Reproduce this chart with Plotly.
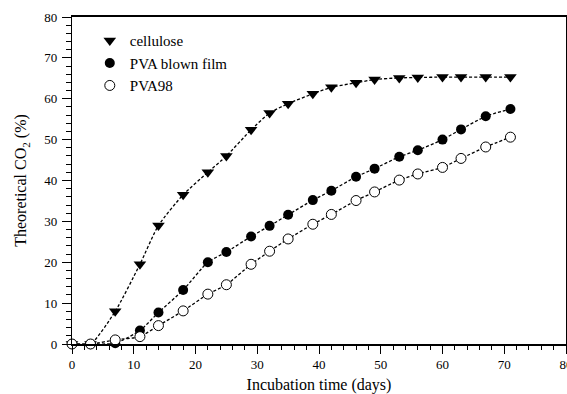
import plotly.graph_objects as go

days = [0, 3, 7, 11, 14, 18, 22, 25, 29, 32, 35, 39, 42, 46, 49, 53, 56, 60, 63, 67, 71]
cellulose = [0, 0, 8, 19.5, 29, 36.5, 42, 46, 52.4, 56.5, 58.8, 61.2, 62.8, 63.9, 64.7, 65.1, 65.2, 65.3, 65.3, 65.3, 65.3]
pva_film = [0, 0, 0.2, 3.3, 7.7, 13.2, 20, 22.5, 26.3, 28.9, 31.6, 35.2, 37.5, 40.9, 42.9, 45.8, 47.4, 50.0, 52.5, 55.7, 57.5]
pva98 = [0, 0, 1.0, 1.8, 4.5, 8.1, 12.2, 14.5, 19.5, 22.7, 25.7, 29.3, 31.7, 35.1, 37.2, 40.1, 41.6, 43.2, 45.4, 48.2, 50.6]

series_names = ["cellulose", "PVA blown film", "PVA98"]
x_ticks = [0, 10, 20, 30, 40, 50, 60, 70, 80]
y_ticks = [0, 10, 20, 30, 40, 50, 60, 70, 80]

FONT = "Times New Roman"
dash = "3px,2px"

fig = go.Figure()
styles = [
    (cellulose, dict(symbol="triangle-down", size=11, color="black")),
    (pva_film, dict(symbol="circle", size=10, color="black")),
    (pva98, dict(symbol="circle-open", size=10, color="black")),
]
for name, (vals, mk) in zip(series_names, styles):
    fig.add_trace(go.Scatter(x=days, y=vals, mode="lines", showlegend=False,
                             line=dict(color="black", width=1.3, dash=dash, shape="spline", smoothing=0.6),
                             cliponaxis=False, hoverinfo="skip"))
for name, (vals, mk) in zip(series_names, styles):
    if mk["symbol"] == "circle-open":
        marker = dict(symbol="circle", size=mk["size"], color="white", line=dict(width=1, color="black"))
    else:
        marker = dict(symbol=mk["symbol"], size=mk["size"], color=mk["color"])
    fig.add_trace(go.Scatter(x=days, y=vals, mode="markers", name=name, marker=marker, cliponaxis=False))

axis_common = dict(
    range=[0, 80], ticks="outside", tickwidth=1, tickcolor="black",
    showline=True, linecolor="black", mirror=True, showgrid=False, zeroline=False,
    automargin=False,
)

fig.update_layout(
    width=567, height=394,
    margin=dict(l=72, r=1, t=17, b=50, autoexpand=False),
    plot_bgcolor="white", paper_bgcolor="white",
    font=dict(family=FONT, size=13, color="black"),
    legend=dict(x=0.036, y=0.978, xanchor="left", yanchor="top",
                bgcolor="rgba(0,0,0,0)", font=dict(size=15),
                tracegroupgap=0),
    xaxis=dict(**axis_common, tickvals=x_ticks, ticktext=[str(v) for v in x_ticks], linewidth=1.5,
               ticklen=8, minor=dict(dtick=2, ticks="outside", ticklen=4, tickcolor="black", tickwidth=1),
               ticklabeloverflow="allow",
               title=dict(text="Incubation time (days)", font=dict(size=16), standoff=8)),
    yaxis=dict(**axis_common, tickvals=y_ticks, ticktext=[str(v) for v in y_ticks], linewidth=1.2,
               ticklen=9, minor=dict(dtick=2, ticks="outside", ticklen=5, tickcolor="black", tickwidth=1),
               ticklabelstandoff=2,
               title=dict(text="Theoretical CO<sub>2</sub> (%)", font=dict(size=16), standoff=13)),
)

fig.write_html("out.html", config={"displayModeBar": False},
               post_script="document.body.style.margin='0';document.body.style.overflow='hidden';")
